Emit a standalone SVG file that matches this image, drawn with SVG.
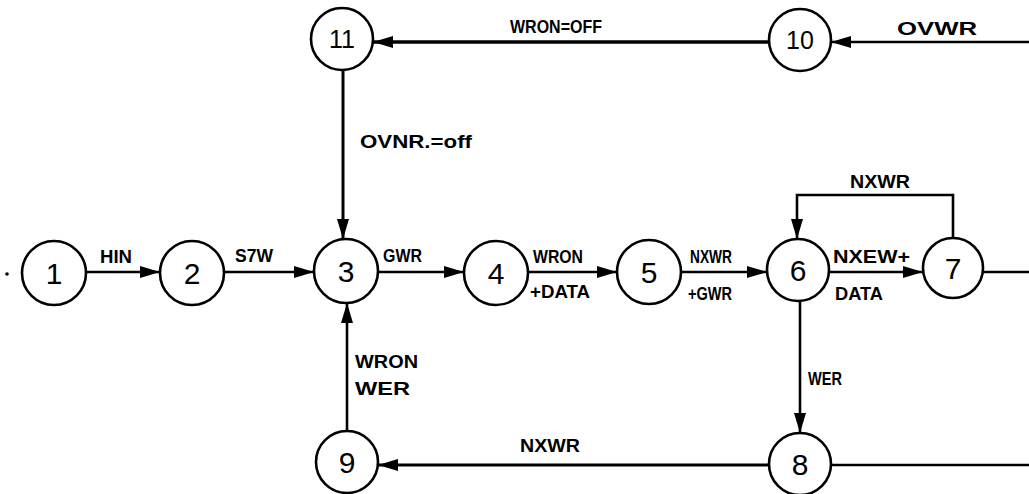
<svg xmlns="http://www.w3.org/2000/svg" width="1029" height="494" viewBox="0 0 1029 494">
<style>
.n{fill:#fff;stroke:#000;stroke-width:2.6}
.d{font-family:"Liberation Sans",Arial,sans-serif;font-size:30px;fill:#000;text-anchor:middle}
.dd{font-size:25px}
.e{fill:none;stroke:#000;stroke-width:2.6}
.t{font-family:"Liberation Sans",Arial,sans-serif;font-weight:bold;font-size:19px;fill:#000}
</style>
<defs>
<marker id="a" markerUnits="userSpaceOnUse" markerWidth="20" markerHeight="12" refX="20" refY="6" orient="auto">
<path d="M0,0 L20,6 L0,12 Z" fill="#000"/>
</marker>
</defs>
<rect width="1029" height="494" fill="#fff"/>
<g id="connectors">
<line class="e" x1="86" y1="272" x2="160" y2="272" marker-end="url(#a)"/>
<line class="e" x1="224" y1="272" x2="314" y2="272" marker-end="url(#a)"/>
<line class="e" x1="378" y1="272" x2="464" y2="272" marker-end="url(#a)"/>
<line class="e" x1="528" y1="272" x2="617" y2="272" marker-end="url(#a)"/>
<line class="e" x1="681" y1="272" x2="767" y2="272" marker-end="url(#a)"/>
<line class="e" x1="829" y1="272" x2="923" y2="272" marker-end="url(#a)"/>
<line class="e" x1="983" y1="272" x2="1029" y2="272"/>
<polyline class="e" points="953,238 953,195 797,195 797,239" marker-end="url(#a)"/>
<line class="e" x1="800" y1="301" x2="800" y2="433" marker-end="url(#a)"/>
<line class="e" style="stroke-width:3" x1="769" y1="465" x2="378" y2="465" marker-end="url(#a)"/>
<line class="e" x1="831" y1="465" x2="1029" y2="465"/>
<line class="e" x1="347" y1="431" x2="347" y2="303" marker-end="url(#a)"/>
<line class="e" style="stroke-width:3" x1="343" y1="70" x2="343" y2="239" marker-end="url(#a)"/>
<line class="e" style="stroke-width:3.5" x1="769" y1="42" x2="373" y2="42" marker-end="url(#a)"/>
<line class="e" x1="1029" y1="42" x2="831" y2="42" marker-end="url(#a)"/>
<text class="t" x="100" y="263" textLength="32" lengthAdjust="spacingAndGlyphs">HIN</text>
<text class="t" x="235" y="262" textLength="38" lengthAdjust="spacingAndGlyphs">S7W</text>
<text class="t" x="383" y="262" textLength="39" lengthAdjust="spacingAndGlyphs">GWR</text>
<text class="t" x="533" y="263" textLength="50" lengthAdjust="spacingAndGlyphs">WRON</text>
<text class="t" x="530" y="298" textLength="60" lengthAdjust="spacingAndGlyphs">+DATA</text>
<text class="t" x="690" y="263" textLength="42" lengthAdjust="spacingAndGlyphs">NXWR</text>
<text class="t" x="688" y="300" textLength="44" lengthAdjust="spacingAndGlyphs">+GWR</text>
<text class="t" x="833" y="263" textLength="77" lengthAdjust="spacingAndGlyphs">NXEW+</text>
<text class="t" x="835" y="300" textLength="48" lengthAdjust="spacingAndGlyphs">DATA</text>
<text class="t" x="850" y="188" textLength="60" lengthAdjust="spacingAndGlyphs">NXWR</text>
<text class="t" x="510" y="33" textLength="92" lengthAdjust="spacingAndGlyphs">WRON=OFF</text>
<text class="t" x="897" y="35" textLength="80" lengthAdjust="spacingAndGlyphs">OVWR</text>
<text class="t" x="360" y="148" textLength="112" lengthAdjust="spacingAndGlyphs">OVNR.=off</text>
<text class="t" x="355" y="368" textLength="63" lengthAdjust="spacingAndGlyphs">WRON</text>
<text class="t" x="355" y="395" textLength="55" lengthAdjust="spacingAndGlyphs">WER</text>
<text class="t" x="808" y="385" textLength="34" lengthAdjust="spacingAndGlyphs">WER</text>
<text class="t" x="520" y="452" textLength="60" lengthAdjust="spacingAndGlyphs">NXWR</text>
</g>
<circle cx="7" cy="274" r="1.8" fill="#000"/>
<g id="n1"><circle class="n" cx="54" cy="273" r="32"/><text class="d" x="54" y="284">1</text></g>
<g id="n2"><circle class="n" cx="192" cy="273" r="32"/><text class="d" x="192" y="284">2</text></g>
<g id="n3"><circle class="n" cx="346" cy="271" r="32"/><text class="d" x="346" y="282">3</text></g>
<g id="n4"><circle class="n" cx="496" cy="273" r="32"/><text class="d" x="496" y="284">4</text></g>
<g id="n5"><circle class="n" cx="649" cy="272" r="32"/><text class="d" x="649" y="283">5</text></g>
<g id="n6"><circle class="n" cx="798" cy="270" r="31"/><text class="d" x="798" y="281">6</text></g>
<g id="n7"><circle class="n" cx="953" cy="268" r="30"/><text class="d" x="953" y="279">7</text></g>
<g id="n8"><circle class="n" cx="800" cy="464" r="31"/><text class="d" x="800" y="475">8</text></g>
<g id="n9"><circle class="n" cx="347" cy="462" r="31"/><text class="d" x="347" y="473">9</text></g>
<g id="n10"><circle class="n" cx="800" cy="40" r="31"/><text class="d dd" x="800" y="49">10</text></g>
<g id="n11"><circle class="n" cx="342" cy="39" r="31"/><text class="d dd" x="342" y="48">11</text></g>
</svg>
